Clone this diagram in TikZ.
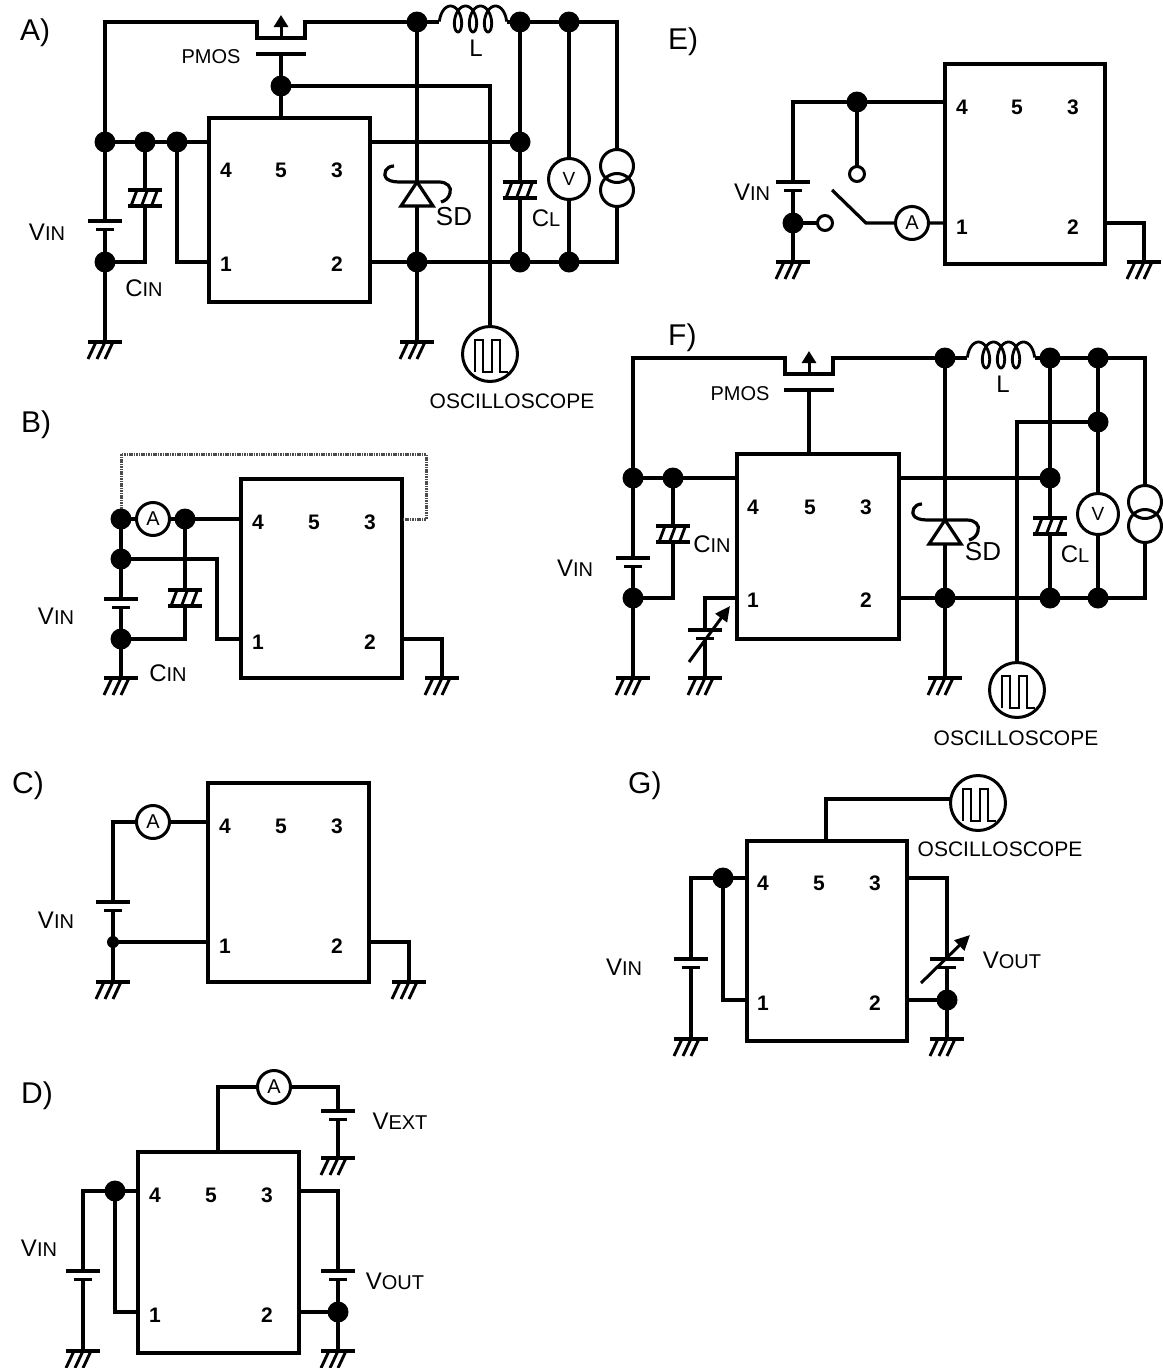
\documentclass[tikz,border=0pt]{standalone}
\usepackage{fontspec}
\setmainfont{Liberation Sans}
\usetikzlibrary{arrows.meta}
\newcommand\sm[1]{{\fontsize{20}{20}\selectfont #1}}
\tikzset{
  wire/.style={line width=3.2pt,line cap=butt,line join=miter},
  plate/.style={line width=3.4pt},
  thinw/.style={line width=2.9pt},
  jdot/.style={circle,fill=black,draw=none,inner sep=0,minimum size=21pt,outer sep=0},
  sdot/.style={circle,fill=black,draw=none,inner sep=0,minimum size=12pt,outer sep=0},
  opendot/.style={circle,fill=white,draw=black,line width=3pt,inner sep=0,minimum size=15pt,outer sep=0},
  meter/.style={circle,draw=black,line width=3pt,inner sep=0,minimum size=33pt,outer sep=0,font=\fontsize{20}{20}\selectfont},
  vmeter/.style={circle,draw=black,line width=3pt,inner sep=0,minimum size=41pt,outer sep=0,font=\fontsize{19}{19}\selectfont},
  srcring/.style={circle,draw=black,line width=3pt,inner sep=0,minimum size=33pt,outer sep=0},
  scopering/.style={circle,draw=black,line width=3pt,inner sep=0,minimum size=55pt,outer sep=0},
  icbox/.style={rectangle,draw=black,line width=3.4pt,inner sep=0,outer sep=0,anchor=north west},
  pinnum/.style={inner sep=0,font=\fontsize{21}{21}\selectfont\bfseries},
  lab/.style={inner sep=0,font=\fontsize{24}{24}\selectfont},
  sect/.style={inner sep=0,anchor=base west,font=\fontsize{30}{30}\selectfont},
  scopetext/.style={inner sep=0,font=\fontsize{21}{21}\selectfont},
  pmostext/.style={inner sep=0,font=\fontsize{20}{20}\selectfont},
  varrow/.style={line width=3pt,-{Triangle[length=15pt,width=14pt]}},
  link/.style={line width=3pt,draw=black!70,dash pattern=on 1.6pt off 0.8pt},
}
\newcommand\elCo[3]{\coordinate (#1) at (#2,#3);}
\newcommand\elDot[3]{\coordinate (#1) at (#2,#3);\node[jdot] (#1-dot) at (#1) {};}
\newcommand\elGnd[3]{%
  \coordinate (#1) at (#2,#3);
  \draw[plate] ({#2-17},#3) -- ({#2+17},#3);
  \foreach \k in {-17,-8,0} \draw[thinw] ({#2+\k+8},#3) -- ({#2+\k},{#3+17});
}
\newcommand\elBat[3]{%
  \coordinate (#1-t) at (#2,#3);
  \coordinate (#1-b) at (#2,{#3+8.5});
  \draw[plate] ({#2-17},#3) -- ({#2+17},#3);
  \draw[plate] ({#2-9},{#3+8.5}) -- ({#2+9},{#3+8.5});
}
\newcommand\elCap[3]{%
  \coordinate (#1-t) at (#2,#3);
  \coordinate (#1-b) at (#2,{#3+16});
  \draw[plate] ({#2-17},#3) -- ({#2+17},#3);
  \draw[plate] ({#2-17},{#3+16}) -- ({#2+17},{#3+16});
  \foreach \k in {-14,-3.5,6.5} \draw[thinw] ({#2+\k+6},#3) -- ({#2+\k},{#3+16});
}
\newcommand\elDio[3]{%
  \coordinate (#1-t) at (#2,#3);
  \coordinate (#1-b) at (#2,{#3+24});
  \begin{scope}[shift={(#2,#3)}]
    \draw[wire] (0,0) -- (-16,24) -- (16,24) -- cycle;
    \draw[wire] (-23,-16) .. controls (-31,-16) and (-35,-8) .. (-30,-3)
      .. controls (-26,0) and (-20,0) .. (-15,0) -- (22,0)
      .. controls (30,0) and (35,5) .. (33,11)
      .. controls (32,16) and (28,19) .. (24,20);
  \end{scope}
}
\newcommand\elOsc[3]{%
  \node[scopering] (#1) at (#2,#3) {};
  \begin{scope}[shift={(#2,#3)}]
    \draw[line width=2.5pt] (-15,18) -- (-15,-14) -- (-7,-14) -- (-7,18) -- (2,18) -- (2,-14) -- (10,-14) -- (10,18) -- (18,18);
  \end{scope}
}
\newcommand\elMos[3]{% name, centre x, top y
  \coordinate (#1-l) at ({#2-24},#3);
  \coordinate (#1-lb) at ({#2-24},{#3+16});
  \coordinate (#1-rb) at ({#2+24},{#3+16});
  \coordinate (#1-r) at ({#2+24},#3);
  \coordinate (#1-g) at (#2,{#3+32});
  \coordinate (#1-ab) at (#2,{#3+16});
  \coordinate (#1-at) at (#2,{#3-7});
  \draw[plate] ({#2-25},{#3+32}) -- ({#2+25},{#3+32});
  \draw[line width=3pt,-{Triangle[length=12pt,width=14pt]}] (#1-ab) -- (#1-at);
}
\newcommand\elCoil[3]{% name, x0, yc
  \coordinate (#1-l) at ({#2-11.1},{#3+3});
  \coordinate (#1-r) at ({#2+56.1},{#3+3});
  \draw[line width=2.8pt] plot[domain=-1.77:20.62,samples=140] ({#2+15*\x/6.2832+7*sin(\x r)},{#3-13*cos(\x r)});
}
\newcommand\elIC[8]{% name x y w h y4 y1 unused
  \node[icbox,minimum width=#4pt,minimum height=#5pt] (#1) at (#2,#3) {};
  \coordinate (#1-4) at (#2,#6);
  \coordinate (#1-1) at (#2,#7);
  \coordinate (#1-3) at ({#2+#4},#6);
  \coordinate (#1-2) at ({#2+#4},#7);
  \coordinate (#1-5) at ({#2+#8},#3);
}
\newcommand\elNums[6]{% prefix x4 x5 x3 ytop ybot
  \node[pinnum] (#1n4) at (#2,#5) {4};
  \node[pinnum] (#1n5) at (#3,#5) {5};
  \node[pinnum] (#1n3) at (#4,#5) {3};
  \node[pinnum] (#1n1) at (#2,#6) {1};
  \node[pinnum] (#1n2) at (#4,#6) {2};
}
\begin{document}
\begin{tikzpicture}[x=1pt,y=-1pt]
\useasboundingbox (0,0) rectangle (1162,1368);
%%%%%%%%%%%%% A
\node[sect] (tA) at (20,40) {A)};
\elIC{ia}{209}{118}{161}{184}{142}{262}{72}
\elNums{a}{226}{281}{337}{170}{264}
\elDot{a1}{105}{142}\elDot{a2}{145}{142}\elDot{a3}{177}{142}\elDot{a4}{105}{262}
\elDot{a5}{417}{22}\elDot{a6}{520}{22}\elDot{a7}{569}{22}\elDot{a8}{281}{86}
\elDot{a9}{520}{142}\elDot{a10}{417}{262}\elDot{a11}{520}{262}\elDot{a12}{569}{262}
\elMos{ma}{281}{22}
\elCoil{la}{450.5}{19}
\elBat{va}{105}{221}
\elCap{ca}{145}{190}
\elCap{cb}{520}{182}
\elDio{da}{417}{182}
\elGnd{ga1}{105}{342}
\elGnd{ga2}{417}{342}
\elOsc{oa}{490}{354}
\node[vmeter] (vma) at (569,179) {V};
\node[srcring] (sa1) at (617,166) {};
\node[srcring] (sa2) at (617,190) {};
\elCo{ac1}{617}{22}\elCo{ac2}{617}{262}\elCo{ac3}{145}{262}\elCo{ac4}{177}{262}
\draw[wire] (a1) |- (ma-l) -- (ma-lb) -- (ma-rb) -- (ma-r) -- (a5);
\draw[wire] (a5) -- (la-l) (la-r) -- (a6) -- (a7) -- (ac1) -- (sa1.north);
\draw[wire] (sa2.south) -- (ac2) -- (ia-2);
\draw[wire] (ma-g) -- (ia-5);
\draw[wire] (a8) -| (oa.north);
\draw[wire] (a1) -- (a2) -- (a3) -- (ia-4);
\draw[wire] (a3) -- (ac4) -- (ia-1);
\draw[wire] (a2) -- (ca-t) (ca-b) -- (ac3) -- (a4);
\draw[wire] (a1) -- (va-t) (va-b) -- (a4) -- (ga1);
\draw[wire] (a5) -- (da-t) (da-b) -- (a10) -- (ga2);
\draw[wire] (a6) -- (a9) -- (cb-t) (cb-b) -- (a11);
\draw[wire] (ia-3) -- (a9);
\draw[wire] (a7) -- (vma) -- (a12);
\node[lab] (la1) at (47,232) {V\sm{IN}};
\node[lab] (la2) at (144,288) {C\sm{IN}};
\node[lab] (la3) at (546,218) {C\sm{L}};
\node[lab,font=\fontsize{26}{26}\selectfont] (la4) at (454,217) {SD};
\node[lab] (la5) at (476,48) {L};
\node[pmostext] (la6) at (211,57) {PMOS};
\node[scopetext] (la7) at (512,401) {OSCILLOSCOPE};
%%%%%%%%%%%%% B
\node[sect] (tB) at (21,432) {B)};
\elIC{ib}{241}{479}{161}{199}{519}{639}{72}
\elNums{b}{258}{314}{370}{522}{642}
\elDot{b1}{121}{519}\elDot{b2}{185}{519}\elDot{b3}{121}{559}\elDot{b4}{121}{639}
\node[meter] (ab) at (153,519) {A};
\elBat{vb}{121}{599}
\elCap{cc}{185}{590}
\elGnd{gb1}{121}{678}
\elGnd{gb2}{442}{678}
\elCo{bc1}{217}{559}\elCo{bc2}{217}{639}\elCo{bc3}{185}{639}\elCo{bc4}{121}{454}\elCo{bc5}{426}{454}\elCo{bc6}{426}{519}
\draw[link] (b1-dot.north) -- (bc4) -- (bc5) -- (bc6) -- (ib-3);
\draw[wire] (b1) -- (ab) -- (b2) -- (ib-4);
\draw[wire] (b1) -- (b3) -- (vb-t) (vb-b) -- (b4) -- (gb1);
\draw[wire] (b3) -- (bc1) -- (bc2) -- (ib-1);
\draw[wire] (b2) -- (cc-t) (cc-b) -- (bc3) -- (b4);
\draw[wire] (ib-2) -| (gb2);
\node[lab] (lb1) at (56,616) {V\sm{IN}};
\node[lab] (lb2) at (168,673) {C\sm{IN}};
%%%%%%%%%%%%% C
\node[sect] (tC) at (12,793) {C)};
\elIC{ic}{208}{783}{161}{199}{822}{942}{72}
\elNums{c}{225}{281}{337}{826}{946}
\node[meter] (ac) at (153,822) {A};
\node[sdot] (c1) at (113,942) {};
\elBat{vc}{113}{902}
\elGnd{gc1}{113}{982}
\elGnd{gc2}{409}{982}
\draw[wire] (vc-t) |- (ac);
\draw[wire] (ac) -- (ic-4);
\draw[wire] (vc-b) -- (c1.center) -- (gc1);
\draw[wire] (c1.center) -- (ic-1);
\draw[wire] (ic-2) -| (gc2);
\node[lab] (lc1) at (56,920) {V\sm{IN}};
%%%%%%%%%%%%% D
\node[sect] (tD) at (21,1103) {D)};
\elIC{id}{138}{1152}{161}{201}{1191}{1312}{80}
\elNums{d}{155}{211}{267}{1195}{1315}
\node[meter] (ad) at (274,1087) {A};
\elDot{d1}{115}{1191}\elDot{d2}{338}{1312}
\elBat{vd1}{338}{1111}
\elBat{vd2}{83}{1271}
\elBat{vd3}{338}{1271}
\elGnd{gd1}{338}{1158}
\elGnd{gd2}{83}{1351}
\elGnd{gd3}{338}{1351}
\elCo{dc1}{115}{1312}
\draw[wire] (id-5) |- (ad);
\draw[wire] (ad) -| (vd1-t);
\draw[wire] (vd1-b) -- (gd1);
\draw[wire] (vd2-t) |- (d1);
\draw[wire] (d1) -- (id-4);
\draw[wire] (vd2-b) -- (gd2);
\draw[wire] (d1) -- (dc1) -- (id-1);
\draw[wire] (id-3) -| (vd3-t);
\draw[wire] (vd3-b) -- (d2) -- (gd3);
\draw[wire] (id-2) -- (d2);
\node[lab] (ld1) at (400,1121) {V\sm{EXT}};
\node[lab] (ld2) at (395,1281) {V\sm{OUT}};
\node[lab] (ld3) at (39,1248) {V\sm{IN}};
%%%%%%%%%%%%% E
\node[sect] (tE) at (668,49) {E)};
\elIC{ie}{945}{64}{160}{200}{102}{223}{72}
\elNums{e}{962}{1017}{1073}{107}{227}
\elDot{e1}{857}{102}\elDot{e2}{793}{223}
\node[opendot] (e3) at (857,174) {};
\node[opendot] (e4) at (825,223) {};
\node[meter] (ae) at (912,223) {A};
\elBat{ve}{793}{182}
\elGnd{ge1}{793}{262}
\elGnd{ge2}{1144}{262}
\elCo{es1}{832}{190}\elCo{es2}{866}{223}
\draw[wire] (ve-t) |- (e1);
\draw[wire] (e1) -- (ie-4);
\draw[wire] (e1) -- (e3);
\draw[wire] (ve-b) -- (e2) -- (ge1);
\draw[wire] (e2) -- (e4);
\draw[wire] (es1) -- (es2) -- (ae) -- (ie-1);
\draw[wire] (ie-2) -| (ge2);
\node[lab] (le1) at (752,192) {V\sm{IN}};
%%%%%%%%%%%%% F
\node[sect] (tF) at (668,345) {F)};
\elIC{if}{737}{454}{162}{185}{478}{598}{72}
\elNums{f}{753}{810}{866}{507}{600}
\elDot{f1}{633}{478}\elDot{f2}{673}{478}\elDot{f3}{633}{598}
\elDot{f4}{945}{358}\elDot{f5}{1050}{358}\elDot{f6}{1098}{358}
\elDot{f7}{1098}{422}\elDot{f8}{1050}{478}
\elDot{f9}{945}{598}\elDot{f10}{1050}{598}\elDot{f11}{1098}{598}
\elMos{mf}{809}{358}
\elCoil{lf}{978.5}{355}
\elBat{vf}{633}{558}
\elCap{cf}{673}{526}
\elCap{cg}{1050}{518}
\elBat{vg}{705}{630}
\elDio{df}{945}{520}
\elGnd{gf1}{633}{678}
\elGnd{gf2}{705}{678}
\elGnd{gf3}{945}{678}
\elOsc{of}{1017}{690}
\node[vmeter] (vmf) at (1098,514) {V};
\node[srcring] (sf1) at (1145,502) {};
\node[srcring] (sf2) at (1145,526) {};
\elCo{fc1}{1145}{358}\elCo{fc2}{1145}{598}\elCo{fc3}{673}{598}\elCo{fc4}{705}{598}
\elCo{fa1}{689}{662}\elCo{fa2}{730}{606}
\draw[wire] (f1) |- (mf-l) -- (mf-lb) -- (mf-rb) -- (mf-r) -- (f4);
\draw[wire] (f4) -- (lf-l) (lf-r) -- (f5) -- (f6) -- (fc1) -- (sf1.north);
\draw[wire] (sf2.south) -- (fc2) -- (if-2);
\draw[wire] (mf-g) -- (if-5);
\draw[wire] (f1) -- (f2) -- (if-4);
\draw[wire] (f2) -- (cf-t) (cf-b) -- (fc3) -- (f3);
\draw[wire] (f1) -- (vf-t) (vf-b) -- (f3) -- (gf1);
\draw[wire] (if-1) -- (fc4) -- (vg-t) (vg-b) -- (gf2);
\draw[varrow] (fa1) -- (fa2);
\draw[wire] (f4) -- (df-t) (df-b) -- (f9) -- (gf3);
\draw[wire] (f5) -- (f8) -- (cg-t) (cg-b) -- (f10);
\draw[wire] (if-3) -- (f8);
\draw[wire] (f6) -- (f7) -- (vmf) -- (f11);
\draw[wire] (f7) -| (of.north);
\node[lab] (lf1) at (575,568) {V\sm{IN}};
\node[lab] (lf2) at (712,544) {C\sm{IN}};
\node[lab] (lf3) at (1075,554) {C\sm{L}};
\node[lab,font=\fontsize{26}{26}\selectfont] (lf4) at (983,552) {SD};
\node[lab] (lf5) at (1003,384) {L};
\node[pmostext] (lf6) at (740,394) {PMOS};
\node[scopetext] (lf7) at (1016,738) {OSCILLOSCOPE};
%%%%%%%%%%%%% G
\node[sect] (tG) at (628,793) {G)};
\elIC{ig}{747}{841}{160}{200}{878}{1000}{79}
\elNums{g}{763}{819}{875}{883}{1003}
\elDot{g1}{723}{878}\elDot{g2}{947}{1000}
\elOsc{og}{978}{803}
\elBat{vh}{691}{959}
\elBat{vi}{947}{959}
\elGnd{gg1}{691}{1039}
\elGnd{gg2}{947}{1039}
\elCo{gc1}{723}{1000}\elCo{gc3}{826}{799}\elCo{ga1}{921}{983}\elCo{ga2}{970}{935}
\draw[wire] (ig-5) -- (gc3) -- (og.west |- gc3);
\draw[wire] (vh-t) |- (g1);
\draw[wire] (g1) -- (ig-4);
\draw[wire] (vh-b) -- (gg1);
\draw[wire] (g1) -- (gc1) -- (ig-1);
\draw[wire] (ig-3) -| (vi-t);
\draw[wire] (vi-b) -- (g2) -- (gg2);
\draw[wire] (ig-2) -- (g2);
\draw[varrow] (ga1) -- (ga2);
\node[lab] (lg1) at (624,967) {V\sm{IN}};
\node[lab] (lg2) at (1012,960) {V\sm{OUT}};
\node[scopetext] (lg3) at (1000,849) {OSCILLOSCOPE};
\end{tikzpicture}
\end{document}
